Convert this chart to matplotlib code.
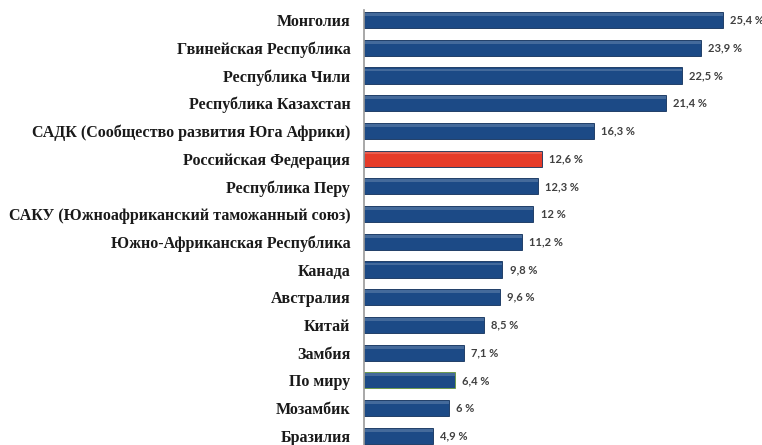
import matplotlib
matplotlib.use('Agg')
from matplotlib import pyplot as plt

# share by country, top to bottom
countries = ['Монголия', 'Гвинейская Республика', 'Республика Чили',
             'Республика Казахстан', 'САДК (Сообщество развития Юга Африки)',
             'Российская Федерация', 'Республика Перу',
             'САКУ (Южноафриканский таможанный союз)',
             'Южно-Африканская Республика', 'Канада', 'Австралия', 'Китай',
             'Замбия', 'По миру', 'Мозамбик', 'Бразилия']
values = [25.4, 23.9, 22.5, 21.4, 16.3, 12.6, 12.3, 12, 11.2, 9.8, 9.6, 8.5,
          7.1, 6.4, 6, 4.9]
value_labels = ['25,4 %', '23,9 %', '22,5 %', '21,4 %', '16,3 %', '12,6 %',
                '12,3 %', '12 %', '11,2 %', '9,8 %', '9,6 %', '8,5 %',
                '7,1 %', '6,4 %', '6 %', '4,9 %']

blue = '#1c4a86'
red = '#e63b2a'
colors = [red if c == 'Российская Федерация' else blue for c in countries]

fig = plt.figure(figsize=(7.62, 4.45), dpi=100)
ax = fig.add_axes([0.478, 0.0, 0.522, 0.978])

ypos = list(range(len(countries)))
bars = ax.barh(ypos, values, height=0.58, color=colors,
               edgecolor='#10305a', linewidth=0.6)
# light highlight strip along the top of each bar
ax.barh([y - 0.2 for y in ypos], values, height=0.1,
        color='white', alpha=0.18, linewidth=0)

# green outline on the world average bar
bars[countries.index('По миру')].set_edgecolor('#6a9a3a')

for y, v, t in zip(ypos, values, value_labels):
    ax.text(v + 0.5, y, t, va='center', ha='left', fontsize=8,
            fontweight='bold', color='#404040', family='Lato')

ax.set_xlim(0, 28.2)
ax.set_ylim(15.33, -0.37)
ax.set_yticks(ypos)
ax.set_yticklabels(countries, family='Liberation Serif', fontweight='bold',
                   fontsize=11.5, color='#1a1a1a')
ax.tick_params(axis='y', length=0, pad=10)
ax.set_xticks([])
for s in ['top', 'right', 'bottom']:
    ax.spines[s].set_visible(False)
ax.spines['left'].set_color('#999999')
ax.spines['left'].set_linewidth(1.2)

plt.savefig('out.png', dpi=100)
